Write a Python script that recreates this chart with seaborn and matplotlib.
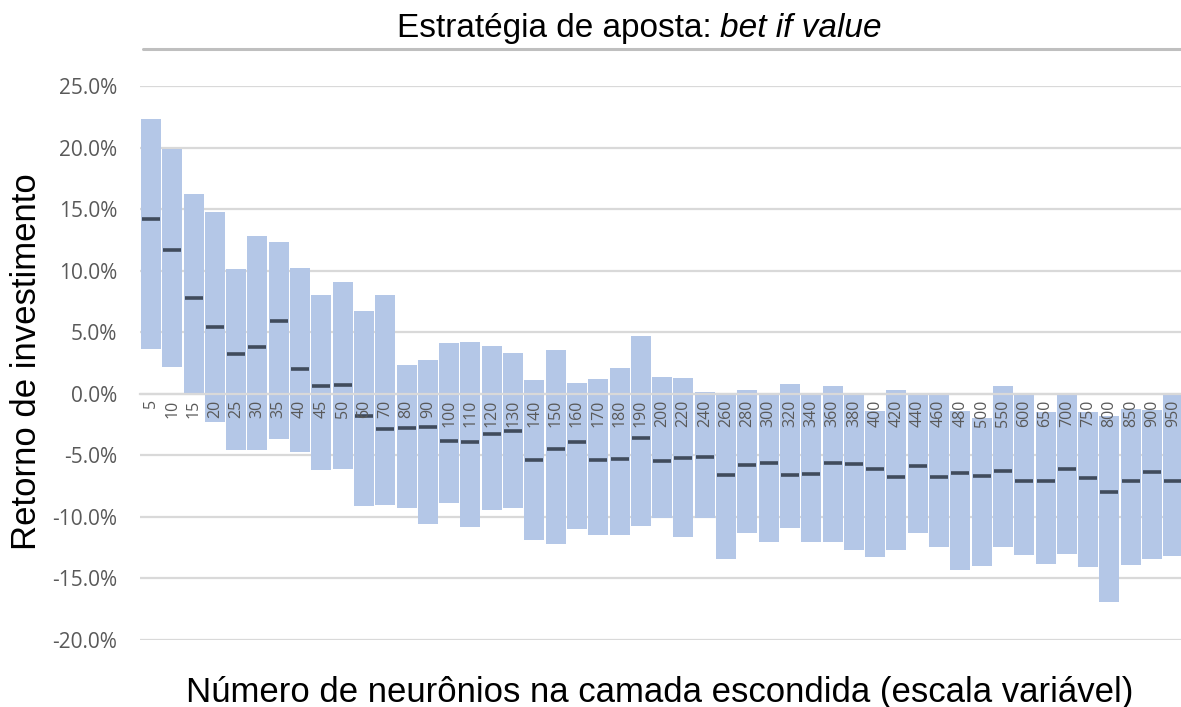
import numpy as np
import pandas as pd
import matplotlib
matplotlib.use("Agg")
import matplotlib.pyplot as plt
from matplotlib.lines import Line2D
from matplotlib.ticker import FuncFormatter
import seaborn as sns

# ---- data (percent) ----
neurons = ["5", "10", "15", "20", "25", "30", "35", "40", "45", "50",
           "60", "70", "80", "90", "100", "110", "120", "130", "140", "150",
           "160", "170", "180", "190", "200", "220", "240", "260", "280", "300",
           "320", "340", "360", "380", "400", "420", "440", "460", "480", "500",
           "550", "600", "650", "700", "750", "800", "850", "900", "950"]

roi_max = [22.3, 19.9, 16.2, 14.75, 10.1, 12.85, 12.3, 10.25, 8.0, 9.05,
           6.7, 8.0, 2.3, 2.75, 4.1, 4.2, 3.9, 3.3, 1.1, 3.55,
           0.9, 1.2, 2.1, 4.7, 1.4, 1.3, 0.15, 0.0, 0.3, 0.0,
           0.8, 0.0, 0.6, 0.0, -1.4, 0.3, 0.0, 0.0, -1.4, -2.0,
           0.6, 0.0, -1.5, 0.0, -1.45, -1.8, -1.2, -1.35, 0.0]

roi_min = [3.6, 2.2, -0.1, -2.3, -4.55, -4.55, -3.7, -4.75, -6.2, -6.1,
           -9.1, -9.05, -9.3, -10.6, -8.9, -10.8, -9.4, -9.3, -11.9, -12.2,
           -11.0, -11.5, -11.5, -10.7, -10.1, -11.6, -10.1, -13.4, -11.3, -12.05,
           -10.9, -12.0, -12.05, -12.7, -13.25, -12.7, -11.3, -12.45, -14.3, -13.95,
           -12.45, -13.1, -13.8, -13.0, -14.05, -16.9, -13.9, -13.4, -13.15]

roi_median = [14.2, 11.7, 7.75, 5.4, 3.25, 3.8, 5.9, 2.0, 0.6, 0.7,
              -1.8, -2.9, -2.75, -2.7, -3.8, -3.9, -3.25, -3.0, -5.4, -4.5,
              -3.9, -5.4, -5.3, -3.6, -5.5, -5.2, -5.15, -6.6, -5.8, -5.65,
              -6.6, -6.55, -5.6, -5.7, -6.1, -6.8, -5.9, -6.8, -6.4, -6.7,
              -6.25, -7.1, -7.05, -6.1, -6.85, -8.0, -7.05, -6.35, -7.1]

y_ticks = [-20, -15, -10, -5, 0, 5, 10, 15, 20, 25]

df = pd.DataFrame({"neurons": neurons, "low": roi_min, "high": roi_max,
                   "median": roi_median})
df["span"] = df["high"] - df["low"]

# ---- style ----
sns.set_theme(style="white")
plt.rcParams["font.family"] = ["Liberation Sans", "DejaVu Sans"]

W, H = 1181, 707
fig = plt.figure(figsize=(W / 100, H / 100), dpi=100)
ax = fig.add_axes([140.3 / W, (H - 640) / H, 1043.7 / W, 554 / H])

bar_color = "#b4c7e7"
med_color = "#404b5c"
grid_color = "#d9d9d9"
tick_color = "#595959"

sns.barplot(data=df, x="neurons", y="span", order=neurons,
            bottom=df["low"].values, color=bar_color, saturation=1,
            width=0.94, linewidth=0, errorbar=None, ax=ax, zorder=1)

sns.pointplot(data=df, x="neurons", y="median", order=neurons,
              linestyle="none", marker="_", color=med_color,
              markersize=13.5, markeredgewidth=2.6, errorbar=None,
              ax=ax, zorder=2)

n = len(neurons)
ax.set_xlim(-0.5, n - 0.5)
ax.set_ylim(-20, 25)
ax.set_yticks(y_ticks)
ax.yaxis.set_major_formatter(FuncFormatter(lambda v, _: f"{v:.1f}%"))
ax.grid(axis="y", color=grid_color, linewidth=1.6)
ax.grid(axis="x", visible=False)

for s in ["top", "right", "left"]:
    ax.spines[s].set_visible(False)
ax.spines["bottom"].set_position(("data", 0))
ax.spines["bottom"].set_color(grid_color)
ax.spines["bottom"].set_linewidth(1.6)
ax.spines["bottom"].set_zorder(2.5)

ax.set_xticks(np.arange(n))
ax.set_xticklabels(neurons, rotation=90)
ax.set_xticks(np.arange(n + 1) - 0.5, minor=True)
ax.tick_params(axis="x", which="major", length=0, pad=4, labelsize=11.5,
               labelcolor=tick_color)
ax.tick_params(axis="x", which="minor", length=4, width=1, color=grid_color,
               direction="out")
ax.tick_params(axis="y", which="major", length=0, pad=16.5, labelsize=15,
               labelcolor=tick_color)
for lab in ax.get_xticklabels() + ax.get_yticklabels():
    lab.set_fontfamily(["Open Sans", "DejaVu Sans"])

ax.set_xlabel("")
ax.set_ylabel("")
ax.xaxis.set_zorder(3)
ax.yaxis.set_zorder(0.5)

# ---- titles / labels ----
fig.text(712 / W, 1 - 37 / H, "Estratégia de aposta:", ha="right",
         va="baseline", fontsize=24, color="black")
fig.text(720 / W, 1 - 37 / H, "bet if value", ha="left", va="baseline",
         fontsize=24, style="italic", color="black")
fig.add_artist(Line2D([143 / W, 1.0], [1 - 49 / H, 1 - 49 / H],
                      transform=fig.transFigure, color="#bfbfbf",
                      linewidth=2.2))
fig.text(27 / W, 1 - 361.5 / H, "Retorno de investimento", rotation=90,
         ha="center", va="center", fontsize=25, color="black")
fig.text(660 / W, 1 - 702 / H,
         "Número de neurônios na camada escondida (escala variável)",
         ha="center", va="baseline", fontsize=25, color="black")

fig.savefig("out.png", dpi=100)
